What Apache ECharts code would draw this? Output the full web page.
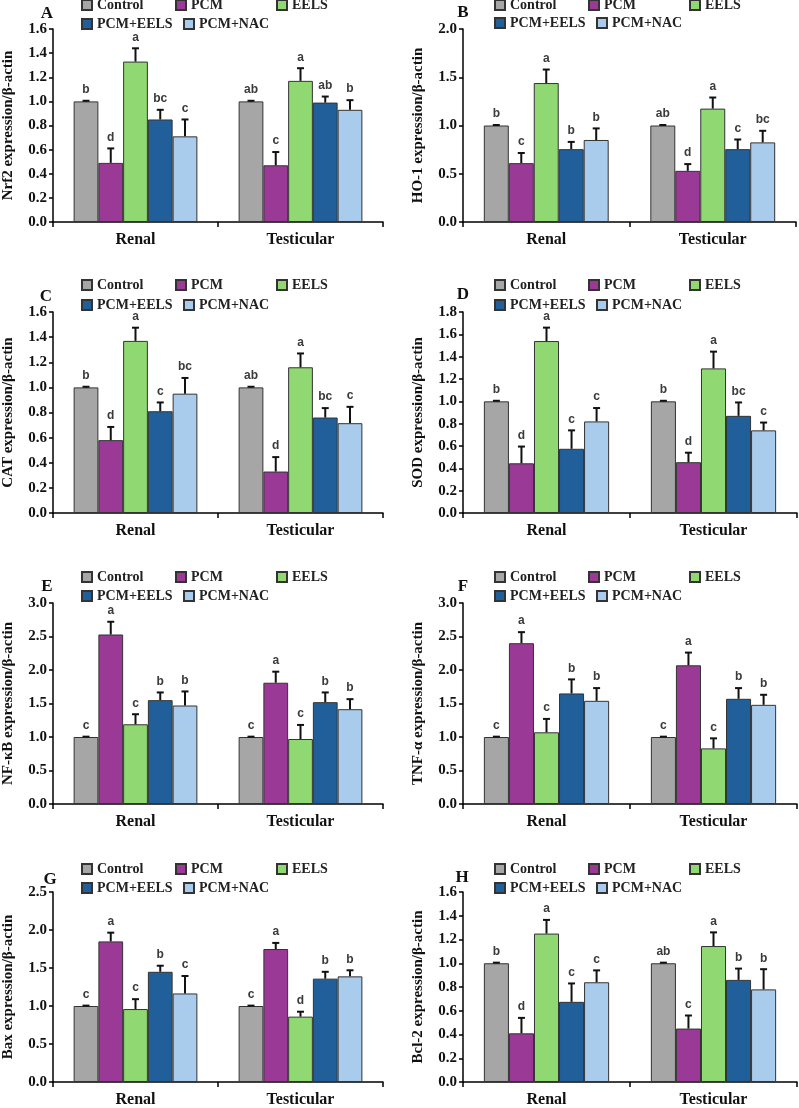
<!DOCTYPE html>
<html>
<head>
<meta charset="utf-8">
<script src="https://cdn.jsdelivr.net/npm/echarts@6/dist/echarts.min.js"></script>
<style>
  html, body { margin: 0; padding: 0; background: #fff; }
  #chart { width: 799px; height: 1108px; }
</style>
</head>
<body>
<div id="chart"></div>
<script>
// categories and groups
var categories = ['Renal', 'Testicular'];
var groups = ['Control', 'PCM', 'EELS', 'PCM+EELS', 'PCM+NAC'];
var colors = ['#a6a6a6', '#9b3a96', '#8fd872', '#215f9a', '#a9cbec'];

// A - Nrf2   (row 0 = Renal, row 1 = Testicular)
var nrf2Mean = [[1.00, 0.49, 1.33, 0.85, 0.71], [1.00, 0.47, 1.17, 0.99, 0.93]];
var nrf2Err  = [[0.005, 0.12, 0.11, 0.08, 0.14], [0.005, 0.11, 0.105, 0.05, 0.08]];
var nrf2Sig  = [['b', 'd', 'a', 'bc', 'c'], ['ab', 'c', 'a', 'ab', 'b']];

// B - HO-1
var ho1Mean = [[1.00, 0.61, 1.44, 0.755, 0.85], [1.00, 0.53, 1.175, 0.755, 0.825]];
var ho1Err  = [[0.005, 0.105, 0.14, 0.075, 0.12], [0.005, 0.07, 0.115, 0.10, 0.12]];
var ho1Sig  = [['b', 'c', 'a', 'b', 'b'], ['ab', 'd', 'a', 'c', 'bc']];

// C - CAT
var catMean = [[1.00, 0.58, 1.37, 0.81, 0.95], [1.00, 0.33, 1.16, 0.76, 0.715]];
var catErr  = [[0.005, 0.105, 0.105, 0.07, 0.125], [0.005, 0.115, 0.11, 0.075, 0.13]];
var catSig  = [['b', 'd', 'a', 'c', 'bc'], ['ab', 'd', 'a', 'bc', 'c']];

// D - SOD
var sodMean = [[1.00, 0.445, 1.54, 0.575, 0.82], [1.00, 0.455, 1.295, 0.87, 0.74]];
var sodErr  = [[0.005, 0.15, 0.12, 0.165, 0.12], [0.005, 0.085, 0.15, 0.12, 0.07]];
var sodSig  = [['b', 'd', 'a', 'c', 'c'], ['b', 'd', 'a', 'bc', 'c']];

// E - NF-kB
var nfkbMean = [[1.00, 2.53, 1.19, 1.55, 1.47], [1.00, 1.81, 0.97, 1.52, 1.415]];
var nfkbErr  = [[0.005, 0.19, 0.15, 0.115, 0.21], [0.005, 0.165, 0.21, 0.145, 0.15]];
var nfkbSig  = [['c', 'a', 'c', 'b', 'b'], ['c', 'a', 'c', 'b', 'b']];

// F - TNF-a
var tnfMean = [[1.00, 2.40, 1.07, 1.65, 1.54], [1.00, 2.07, 0.83, 1.57, 1.48]];
var tnfErr  = [[0.005, 0.165, 0.20, 0.21, 0.19], [0.005, 0.19, 0.15, 0.16, 0.15]];
var tnfSig  = [['c', 'a', 'c', 'b', 'b'], ['c', 'a', 'c', 'b', 'b']];

// G - Bax
var baxMean = [[1.00, 1.85, 0.96, 1.45, 1.165], [1.00, 1.75, 0.86, 1.36, 1.39]];
var baxErr  = [[0.005, 0.115, 0.13, 0.08, 0.23], [0.005, 0.08, 0.065, 0.09, 0.08]];
var baxSig  = [['c', 'a', 'c', 'b', 'c'], ['c', 'a', 'd', 'b', 'b']];

// H - Bcl-2
var bcl2Mean = [[1.00, 0.41, 1.25, 0.675, 0.84], [1.00, 0.45, 1.145, 0.86, 0.78]];
var bcl2Err  = [[0.005, 0.13, 0.115, 0.155, 0.10], [0.005, 0.11, 0.115, 0.095, 0.17]];
var bcl2Sig  = [['b', 'd', 'a', 'c', 'c'], ['ab', 'c', 'a', 'b', 'b']];

var serif = '"Liberation Serif", "Times New Roman", serif';
var sans = '"Liberation Sans", Arial, sans-serif';

// panel layout (pixels)
var panels = [
  {tag: 'A', name: 'Nrf2 expression/β-actin',  mean: nrf2Mean, err: nrf2Err, sig: nrf2Sig, max: 1.6, step: 0.2,
   left: 50,  top: 29,  w: 333, h: 193, tx: 47,  ty: 14,  ly: [6, 25]},
  {tag: 'B', name: 'HO-1 expression/β-actin',  mean: ho1Mean,  err: ho1Err,  sig: ho1Sig,  max: 2.0, step: 0.5,
   left: 463, top: 29,  w: 333, h: 193, tx: 463, ty: 13,  ly: [6, 24]},
  {tag: 'C', name: 'CAT expression/β-actin',   mean: catMean,  err: catErr,  sig: catSig,  max: 1.6, step: 0.2,
   left: 50,  top: 312, w: 333, h: 201, tx: 46,  ty: 297, ly: [286, 306]},
  {tag: 'D', name: 'SOD expression/β-actin',   mean: sodMean,  err: sodErr,  sig: sodSig,  max: 1.8, step: 0.2,
   left: 463, top: 312, w: 334, h: 201, tx: 463, ty: 295, ly: [286, 306]},
  {tag: 'E', name: 'NF-κB expression/β-actin', mean: nfkbMean, err: nfkbErr, sig: nfkbSig, max: 3.0, step: 0.5,
   left: 50,  top: 603, w: 333, h: 201, tx: 47,  ty: 587, ly: [578, 597]},
  {tag: 'F', name: 'TNF-α expression/β-actin', mean: tnfMean,  err: tnfErr,  sig: tnfSig,  max: 3.0, step: 0.5,
   left: 463, top: 603, w: 334, h: 201, tx: 463, ty: 587, ly: [578, 597]},
  {tag: 'G', name: 'Bax expression/β-actin',   mean: baxMean,  err: baxErr,  sig: baxSig,  max: 2.5, step: 0.5,
   left: 50,  top: 892, w: 333, h: 192, tx: 50,  ty: 880, ly: [870, 889]},
  {tag: 'H', name: 'Bcl-2 expression/β-actin', mean: bcl2Mean, err: bcl2Err, sig: bcl2Sig, max: 1.6, step: 0.2,
   left: 463, top: 892, w: 334, h: 192, tx: 462, ty: 878, ly: [870, 889]}
];

// legend slots: [x offset from y axis, row]
var legendSlots = [[32, 0], [126, 0], [227, 0], [32, 1], [134, 1]];

var grids = [], xAxes = [], yAxes = [], series = [], legends = [], titles = [];

panels.forEach(function (p, idx) {
  grids.push({left: p.left, top: p.top, width: p.w, height: p.h, containLabel: false});
  titles.push({
    text: p.tag, left: p.tx, top: p.ty, textAlign: 'center', textVerticalAlign: 'middle', padding: 0,
    textStyle: {fontFamily: serif, fontWeight: 'bold', fontSize: 17, color: '#111'}
  });
  xAxes.push({
    type: 'category', gridIndex: idx, data: categories,
    axisLine: {show: true, lineStyle: {color: '#000', width: 1.5}},
    axisTick: {show: true, length: 5, lineStyle: {color: '#000', width: 1.5}},
    axisLabel: {margin: 10, color: '#111', fontFamily: serif, fontWeight: 'bold', fontSize: 16},
    splitLine: {show: false}
  });
  yAxes.push({
    type: 'value', gridIndex: idx, min: 0, max: p.max, interval: p.step,
    name: p.name, nameLocation: 'middle', nameGap: 37,
    nameTextStyle: {fontFamily: serif, fontWeight: 'bold', fontSize: 15, color: '#111'},
    axisLine: {show: true, lineStyle: {color: '#000', width: 1.5}},
    axisTick: {show: true, length: 4, lineStyle: {color: '#000', width: 1.5}},
    axisLabel: {margin: 6, color: '#111', fontFamily: serif, fontWeight: 'bold', fontSize: 15,
      formatter: function (v) { return v.toFixed(1); }},
    splitLine: {show: false}
  });

  groups.forEach(function (g, gi) {
    series.push({
      name: g, type: 'bar', xAxisIndex: idx, yAxisIndex: idx,
      barWidth: '15%', barGap: '0%',
      data: [p.mean[0][gi], p.mean[1][gi]],
      itemStyle: {color: colors[gi], borderColor: '#333', borderWidth: 1},
      emphasis: {disabled: true}, silent: true
    });
    var slot = legendSlots[gi];
    legends.push({
      data: [g], left: p.left + slot[0] - 1, top: p.ly[slot[1]] - 8,
      selectedMode: false, icon: 'rect', itemWidth: 10, itemHeight: 10, itemGap: 0, padding: 0,
      textStyle: {fontFamily: serif, fontWeight: 'bold', fontSize: 14, color: '#222'}
    });
  });

  // error bars + significance letters
  var ebData = [];
  for (var c = 0; c < 2; c++) {
    for (var gi = 0; gi < 5; gi++) {
      ebData.push([c, p.mean[c][gi], p.err[c][gi], gi]);
    }
  }
  series.push({
    type: 'custom', xAxisIndex: idx, yAxisIndex: idx, z: 10, silent: true, clip: false,
    data: ebData,
    renderItem: function (params, api) {
      var c = api.value(0), m = api.value(1), e = api.value(2), gi = api.value(3);
      var band = api.size([1, 0])[0];
      var bw = band * 0.15;
      var base = api.coord([c, m]);
      var x = base[0] + (gi - 2) * bw;
      var yTop = api.coord([c, m + e])[1];
      return {
        type: 'group',
        children: [
          {type: 'line', shape: {x1: x, y1: base[1], x2: x, y2: yTop},
           style: {stroke: '#111', lineWidth: 2}},
          {type: 'line', shape: {x1: x - 3.5, y1: yTop, x2: x + 3.5, y2: yTop},
           style: {stroke: '#111', lineWidth: 2}},
          {type: 'text', x: x, y: yTop - 5,
           style: {text: p.sig[c][gi], align: 'center', verticalAlign: 'bottom',
                   fontFamily: sans, fontWeight: 'bold', fontSize: 12, fill: '#3a3a3a'}}
        ]
      };
    }
  });
});

var myChart = echarts.init(document.getElementById('chart'));
myChart.setOption({
  backgroundColor: '#fff',
  animation: false,
  title: titles,
  legend: legends,
  grid: grids,
  xAxis: xAxes,
  yAxis: yAxes,
  series: series
});
</script>
</body>
</html>
